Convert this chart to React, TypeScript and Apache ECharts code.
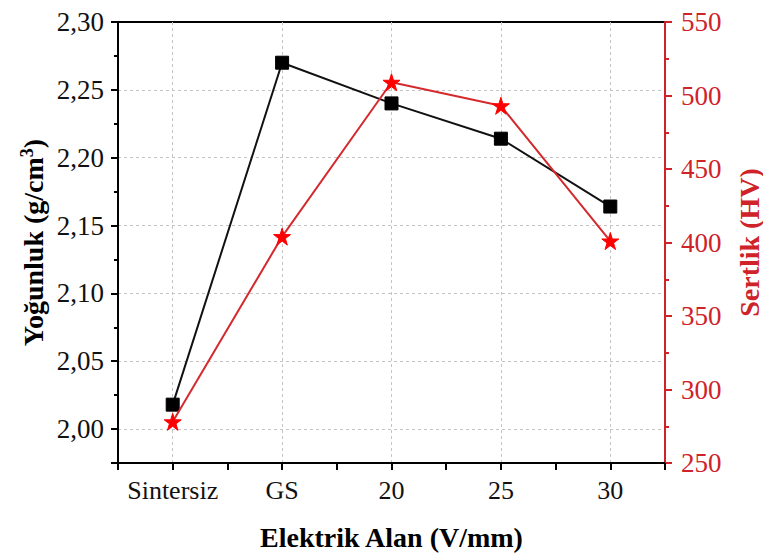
import React, { useEffect, useRef } from "react";
import * as echarts from "echarts";

const categories = ["Sintersiz", "GS", "20", "25", "30"];
const densityValues = [2.018, 2.27, 2.24, 2.214, 2.164];
const hardnessValues = [278, 404, 509, 493, 401];
const densityTicks = { min: 1.975, max: 2.3, step: 0.05, minorStep: 0.025 };
const hardnessTicks = { min: 250, max: 550, step: 50 };

const FONT = "Liberation Serif";
const RED_AXIS = "#cf2229";
const RED_LINE = "#d42a2e";
const STAR =
  "path://M50,0 L61.2,34.5 L97.6,34.5 L68.2,55.9 L79.4,90.5 L50,69.1 L20.6,90.5 L31.8,55.9 L2.4,34.5 L38.8,34.5 Z";

function isMultiple(v: number, step: number) {
  const r = v / step;
  return Math.abs(r - Math.round(r)) < 1e-6;
}

export default function App() {
  const ref = useRef<HTMLDivElement>(null);
  useEffect(() => {
    if (!ref.current) return;
    const chart = echarts.init(ref.current, null, { renderer: "svg" });
    const xMin = -0.5;
    const xMax = categories.length - 0.5;
    const gridLine = { show: true, lineStyle: { color: "#c4c4c4", type: [3, 3], width: 1 } };
    chart.setOption({
      animation: false,
      backgroundColor: "#fff",
      grid: {
        left: 118,
        right: 98,
        top: 22,
        bottom: 93,
        show: true,
        borderColor: "#000",
        borderWidth: 2,
        backgroundColor: "transparent",
        containLabel: false,
        outerBoundsMode: "none",
      },
      xAxis: [
        {
          type: "value",
          position: "bottom",
          min: xMin,
          max: xMax,
          interval: 0.5,
          name: "Elektrik Alan (V/mm)",
          nameLocation: "middle",
          nameGap: 60,
          nameMoveOverlap: false,
          nameTextStyle: { fontFamily: FONT, fontWeight: "bold", fontSize: 28, color: "#000" },
          axisLine: { show: true, onZero: false, lineStyle: { color: "#000", width: 2 } },
          axisTick: { show: true, inside: false, length: 7, lineStyle: { color: "#000", width: 2 } },
          axisLabel: {
            fontFamily: FONT,
            fontSize: 26,
            color: "#111",
            margin: 14,
            showMinLabel: true,
            showMaxLabel: true,
            formatter: (v: number) => (isMultiple(v, 1) && v >= 0 && v < categories.length ? categories[Math.round(v)] : ""),
          },
          splitLine: { show: false },
        },
        {
          type: "value",
          position: "bottom",
          min: xMin,
          max: xMax,
          minInterval: 1,
          maxInterval: 1,
          axisLine: { show: false, onZero: false },
          axisTick: { show: false },
          axisLabel: { show: false },
          splitLine: { ...gridLine, showMinLine: false, showMaxLine: false },
        },
      ],
      yAxis: [
        {
          type: "value",
          position: "left",
          min: densityTicks.min,
          max: densityTicks.max,
          minInterval: densityTicks.step,
          maxInterval: densityTicks.step,
          name: "Yoğunluk (g/cm{sup|3})",
          nameLocation: "middle",
          nameRotate: 90,
          nameGap: 70,
          nameMoveOverlap: false,
          nameTextStyle: {
            fontFamily: FONT,
            fontWeight: "bold",
            fontSize: 28,
            color: "#000",
            lineHeight: 30,
            rich: {
              sup: { fontFamily: FONT, fontWeight: "bold", fontSize: 18, color: "#000", verticalAlign: "top", lineHeight: 18 },
            },
          },
          axisLine: { show: true, onZero: false, lineStyle: { color: "#000", width: 2 } },
          axisTick: { show: true, inside: false, length: 7, lineStyle: { color: "#000", width: 2 } },
          axisLabel: {
            fontFamily: FONT,
            fontSize: 27,
            color: "#111",
            margin: 14,
            formatter: (v: number) => (isMultiple(v, densityTicks.step) ? v.toFixed(2).replace(".", ",") : ""),
          },
          splitLine: { ...gridLine, showMinLine: false, showMaxLine: false },
        },
        {
          type: "value",
          position: "right",
          min: hardnessTicks.min,
          max: hardnessTicks.max,
          interval: hardnessTicks.step,
          name: "Sertlik (HV)",
          nameLocation: "middle",
          nameRotate: 90,
          nameGap: 70,
          nameMoveOverlap: false,
          nameTextStyle: { fontFamily: FONT, fontWeight: "bold", fontSize: 28, color: RED_AXIS },
          axisLine: { show: true, onZero: false, lineStyle: { color: RED_AXIS, width: 2 } },
          axisTick: { show: true, inside: false, length: 7, lineStyle: { color: RED_AXIS, width: 2 } },
          minorTick: { show: true, splitNumber: 2, length: 4, lineStyle: { color: RED_AXIS, width: 2 } },
          axisLabel: { fontFamily: FONT, fontSize: 27, color: RED_AXIS, margin: 16 },
          splitLine: { show: false },
        },
        {
          type: "value",
          position: "left",
          min: densityTicks.min,
          max: densityTicks.max,
          interval: densityTicks.minorStep,
          axisLine: { show: false, onZero: false },
          axisTick: { show: true, inside: false, length: 4, lineStyle: { color: "#000", width: 2 } },
          axisLabel: { show: false },
          splitLine: { show: false },
        },
      ],
      series: [
        {
          type: "line",
          name: "Yoğunluk",
          xAxisIndex: 0,
          yAxisIndex: 0,
          data: densityValues.map((v, i) => [i, v]),
          symbol: "rect",
          symbolSize: 13,
          lineStyle: { color: "#111", width: 2 },
          itemStyle: { color: "#000", borderColor: "#000" },
          z: 3,
        },
        {
          type: "line",
          name: "Sertlik",
          xAxisIndex: 0,
          yAxisIndex: 1,
          data: hardnessValues.map((v, i) => [i, v]),
          symbol: STAR,
          symbolSize: 17,
          lineStyle: { color: RED_LINE, width: 2 },
          itemStyle: { color: "#ff0000", borderColor: "#ff0000" },
          z: 4,
        },
      ],
    });
    return () => chart.dispose();
  }, []);
  return <div ref={ref} style={{ width: 763, height: 556, position: "absolute", left: 0, top: 0 }} />;
}
